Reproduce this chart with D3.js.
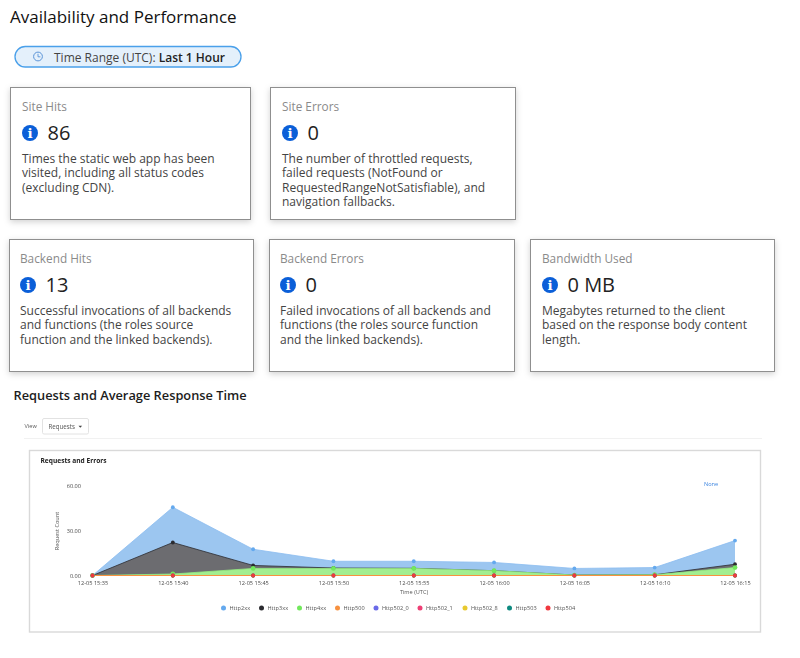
<!DOCTYPE html>
<html>
<head>
<meta charset="utf-8">
<title>Availability and Performance</title>
<script src="https://cdn.jsdelivr.net/npm/d3@7"></script>
<style>
html, body { margin: 0; padding: 0; background: #fff; }
svg { display: block; font-family: "Open Sans", "Noto Sans", sans-serif; }
</style>
</head>
<body>
<svg id="page" width="800" height="658"></svg>
<script>
// card contents
var cardTitles = ["Site Hits", "Site Errors", "Backend Hits", "Backend Errors", "Bandwidth Used"];
var cardValues = ["86", "0", "13", "0", "0 MB"];
var cardLines = [
    ["Times the static web app has been", "visited, including all status codes", "(excluding CDN)."],
    ["The number of throttled requests,", "failed requests (NotFound or", "RequestedRangeNotSatisfiable), and", "navigation fallbacks."],
    ["Successful invocations of all backends", "and functions (the roles source", "function and the linked backends)."],
    ["Failed invocations of all backends and", "functions (the roles source function", "and the linked backends)."],
    ["Megabytes returned to the client", "based on the response body content", "length."]
];

// chart values
var timeLabels = ["12-05 15:35", "12-05 15:40", "12-05 15:45", "12-05 15:50", "12-05 15:55", "12-05 16:00", "12-05 16:05", "12-05 16:10", "12-05 16:15"];
var yTicks = [0, 30, 60];
var http2xx = [0, 45.5, 17.5, 9.5, 9.5, 8.7, 4.7, 5.3, 23.3];
var http3xx = [0, 22, 6.7, 5, 4.8, 3.2, 0.3, 0.5, 7.5];
var http4xx = [0, 1, 4.7, 4.7, 4.7, 3.2, 0.3, 0.5, 5.3];
var http500 = [0, 0, 0, 0, 0, 0, 0, 0, 0];
var http502_0 = [0, 0, 0, 0, 0, 0, 0, 0, 0];
var http502_1 = [0, 0, 0, 0, 0, 0, 0, 0, 0];
var http502_8 = [0, 0, 0, 0, 0, 0, 0, 0, 0];
var http503 = [0, 0, 0, 0, 0, 0, 0, 0, 0];
var http504 = [0, 0, 0, 0, 0, 0, 0, 0, 0];

var seriesNames = ["Http2xx", "Http3xx", "Http4xx", "Http500", "Http502_0", "Http502_1", "Http502_8", "Http503", "Http504"];
var seriesValues = [http2xx, http3xx, http4xx, http500, http502_0, http502_1, http502_8, http503, http504];
var seriesColors = ["#64a9ee", "#2b2b30", "#72e85c", "#f7913f", "#6a6ae8", "#ee3f74", "#e8c92e", "#0e8a80", "#f0383f"];
var areaColors = ["#9cc6f0", "#6c6c70", "#a2ee90", "#f7913f", "#6a6ae8", "#ee3f74", "#e8c92e", "#0e8a80", "#f0383f"];
var lineColors = ["#8cbdf0", "#2b2b30", "#94ec80", "#f7913f", "#f7913f", "#f7913f", "#f7913f", "#f7913f", "#f7913f"];

// card boxes: x, y, width, height, text inset
var cardBoxes = [[10.5, 87.5, 240, 132, 11.5], [270.5, 87.5, 245, 132, 11.5], [9.5, 239.5, 244, 132, 10.5], [269.5, 239.5, 245, 132, 10.5], [530.5, 239.5, 244, 132, 11.5]];
var legendX = [223.5, 261.5, 299.5, 337.5, 376, 420, 465, 509.5, 548];

var svg = d3.select("#page");

svg.append("text").attr("x", 10).attr("y", 22.5)
    .attr("font-size", 17).attr("font-weight", 500).attr("fill", "#111")
    .text("Availability and Performance");

// time range pill
var pill = svg.append("g");
pill.append("rect").attr("x", 15).attr("y", 46.5).attr("width", 226).attr("height", 20.5).attr("rx", 10.2)
    .attr("fill", "#e4f0fb").attr("stroke", "#4aa0ea").attr("stroke-width", 1.3);
pill.append("circle").attr("cx", 38).attr("cy", 56.5).attr("r", 4.4)
    .attr("fill", "none").attr("stroke", "#5a94d8").attr("stroke-width", 1);
pill.append("path").attr("d", "M38 53.8V56.8H40.4").attr("fill", "none").attr("stroke", "#5a94d8").attr("stroke-width", 0.9);
var pillText = pill.append("text").attr("x", 54).attr("y", 62).attr("font-size", 12).attr("fill", "#444");
pillText.append("tspan").text("Time Range (UTC): ");
pillText.append("tspan").attr("font-weight", 600).attr("fill", "#222").text("Last 1 Hour");

// cards
var cards = svg.selectAll(".card").data(cardTitles).enter().append("g")
    .attr("class", "card")
    .attr("transform", function (d, i) { return "translate(" + cardBoxes[i][0] + "," + cardBoxes[i][1] + ")"; });

cards.append("rect")
    .attr("width", function (d, i) { return cardBoxes[i][2]; })
    .attr("height", function (d, i) { return cardBoxes[i][3]; })
    .attr("fill", "#fff").attr("stroke", "#8f8f8f").attr("stroke-width", 1)
    .style("filter", "drop-shadow(0 2px 3px rgba(0,0,0,0.18))");

cards.append("text").attr("x", function (d, i) { return cardBoxes[i][4]; }).attr("y", 23.5)
    .attr("font-size", 11.8).attr("fill", "#8a8a8a")
    .text(function (d) { return d; });

cards.append("circle").attr("cx", function (d, i) { return cardBoxes[i][4] + 8; }).attr("cy", 45.5).attr("r", 8).attr("fill", "#0b5fd8");
cards.append("text").attr("x", function (d, i) { return cardBoxes[i][4] + 8; }).attr("y", 50.5)
    .attr("text-anchor", "middle").attr("font-size", 13.5).attr("font-weight", 700)
    .attr("font-family", "'DejaVu Serif', serif").attr("fill", "#fff").text("i");

cards.append("text").attr("x", function (d, i) { return cardBoxes[i][4] + 25.5; }).attr("y", 52)
    .attr("font-size", 20).attr("fill", "#222")
    .text(function (d, i) { return cardValues[i]; });

cards.each(function (d, i) {
    d3.select(this).selectAll(".desc").data(cardLines[i]).enter().append("text")
        .attr("class", "desc").attr("x", cardBoxes[i][4])
        .attr("y", function (line, j) { return 75 + j * 14.6; })
        .attr("font-size", 12).attr("fill", "#444")
        .text(function (line) { return line; });
});

svg.append("text").attr("x", 13.5).attr("y", 400)
    .attr("font-size", 12.8).attr("font-weight", 600).attr("fill", "#1c1c1c")
    .text("Requests and Average Response Time");

// everything below is soft in the reference, the chart was scaled down
var chart = svg.append("g").style("filter", "blur(0.35px)");

// view selector
chart.append("text").attr("x", 24.5).attr("y", 427.5).attr("font-size", 5.6).attr("fill", "#555").text("View");
chart.append("rect").attr("x", 42.5).attr("y", 418.5).attr("width", 46).attr("height", 15.5).attr("rx", 1.5)
    .attr("fill", "#fff").attr("stroke", "#e2e2e2");
chart.append("text").attr("x", 48.5).attr("y", 428.5).attr("font-size", 6.2).attr("fill", "#555").text("Requests");
chart.append("path").attr("d", "M78.5 425.8h3.6l-1.8 1.9z").attr("fill", "#444");
chart.append("line").attr("x1", 24).attr("x2", 762).attr("y1", 438.5).attr("y2", 438.5).attr("stroke", "#f1f1f1");

// chart panel
chart.append("rect").attr("x", 29.5).attr("y", 450.5).attr("width", 731).attr("height", 181.5)
    .attr("fill", "#fff").attr("stroke", "#d9d9d9").attr("stroke-width", 1.4);
chart.append("text").attr("x", 40.5).attr("y", 462.5)
    .attr("font-size", 6.6).attr("font-weight", 700).attr("fill", "#222").text("Requests and Errors");
chart.append("text").attr("x", 704).attr("y", 486)
    .attr("font-size", 5.6).attr("fill", "#3f87e0").text("None");

var x = d3.scalePoint().domain(timeLabels).range([92.5, 735]);
var y = d3.scaleLinear().domain([0, 60]).range([575.5, 485.5]);

var area = d3.area()
    .x(function (d, i) { return x(timeLabels[i]); })
    .y0(y(0))
    .y1(function (d) { return y(d); });
var line = d3.line()
    .x(function (d, i) { return x(timeLabels[i]); })
    .y(function (d) { return y(d); });

var plot = chart.append("g");
seriesValues.forEach(function (values, k) {
    plot.append("path").attr("d", area(values)).attr("fill", areaColors[k]);
    plot.append("path").attr("d", line(values)).attr("fill", "none").attr("stroke", lineColors[k]).attr("stroke-width", 0.8);
});
seriesValues.forEach(function (values, k) {
    plot.selectAll(".pt" + k).data(values).enter().append("circle")
        .attr("class", "pt" + k)
        .attr("cx", function (d, i) { return x(timeLabels[i]); })
        .attr("cy", function (d) { return y(d); })
        .attr("r", k == 2 ? 2.4 : 1.9)
        .attr("fill", seriesColors[k]);
});

var xAxis = chart.append("g").attr("transform", "translate(0," + y(0) + ")")
    .call(d3.axisBottom(x).tickSize(0).tickPadding(5.5));
var yAxis = chart.append("g").attr("transform", "translate(81,0)")
    .call(d3.axisLeft(y).tickValues(yTicks).tickSize(0).tickPadding(0).tickFormat(d3.format(".2f")));
[xAxis, yAxis].forEach(function (axis) {
    axis.select(".domain").remove();
    axis.selectAll("text").attr("font-size", 5.6).attr("fill", "#4a4a4a")
        .attr("font-family", "'Open Sans', sans-serif");
});

chart.append("text").attr("transform", "translate(59,531) rotate(-90)")
    .attr("text-anchor", "middle").attr("font-size", 5.6).attr("fill", "#555").text("Request Count");
chart.append("text").attr("x", 414).attr("y", 593.5)
    .attr("text-anchor", "middle").attr("font-size", 5.6).attr("fill", "#555").text("Time (UTC)");

// legend
var legend = chart.selectAll(".legend").data(seriesNames).enter().append("g")
    .attr("class", "legend")
    .attr("transform", function (d, i) { return "translate(" + legendX[i] + ",608)"; });
legend.append("circle").attr("r", 2.5).attr("fill", function (d, i) { return seriesColors[i]; });
legend.append("text").attr("x", 6).attr("y", 2)
    .attr("font-size", 5.6).attr("fill", "#555")
    .text(function (d) { return d; });
</script>
</body>
</html>
